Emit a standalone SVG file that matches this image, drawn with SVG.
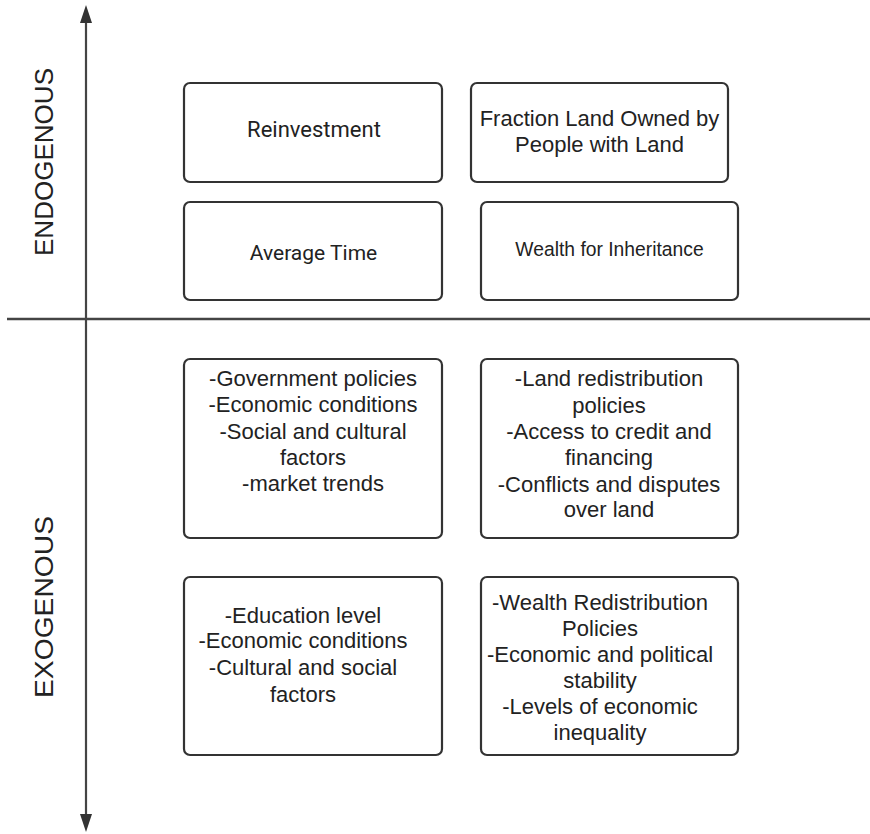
<svg xmlns="http://www.w3.org/2000/svg" width="870" height="834" viewBox="0 0 870 834">
  <style>
    .box { fill: #ffffff; stroke: #333333; stroke-width: 2.2; }
    .axis { stroke: #444444; stroke-width: 2.2; fill: none; }
    .lbl { font-family: "Liberation Sans", Arial, sans-serif; font-size: 22px; fill: #222222; text-anchor: middle; }
    .rb { font-family: Roboto, "Liberation Sans", sans-serif; }
    .side { font-family: "Liberation Sans", Arial, sans-serif; font-size: 26px; fill: #222222; text-anchor: middle; }
  </style>
  <rect width="870" height="834" fill="#ffffff"/>

  <g id="connectors">
    <line class="axis" x1="86" y1="818" x2="86" y2="20"/>
    <path d="M86,5 L80,23 L92,23 Z" fill="#333333"/>
    <path d="M86,832 L80,814 L92,814 Z" fill="#333333"/>
    <line class="axis" x1="7" y1="319" x2="870" y2="319" style="stroke-width:2.6"/>
  </g>

  <g id="label-endogenous">
    <text class="side" transform="translate(52.5,162) rotate(-90)" textLength="188" lengthAdjust="spacingAndGlyphs">ENDOGENOUS</text>
  </g>
  <g id="label-exogenous">
    <text class="side" transform="translate(52.5,607) rotate(-90)" textLength="182" lengthAdjust="spacingAndGlyphs">EXOGENOUS</text>
  </g>

  <g id="reinvestment">
    <rect class="box" x="184" y="83" width="258" height="99" rx="6"/>
    <text class="lbl rb" x="314" y="137">Reinvestment</text>
  </g>

  <g id="fraction-land">
    <rect class="box" x="471" y="83" width="257" height="99" rx="6"/>
    <text class="lbl" x="599.5" y="126">Fraction Land Owned by</text>
    <text class="lbl" x="599.5" y="152">People with Land</text>
  </g>

  <g id="average-time">
    <rect class="box" x="184" y="202" width="258" height="98" rx="6"/>
    <text class="lbl rb" x="313.5" y="260" style="font-size:21px">Average Time</text>
  </g>

  <g id="wealth-inheritance">
    <rect class="box" x="481" y="202" width="257" height="98" rx="6"/>
    <text class="lbl" x="609.5" y="256" style="font-size:19.3px">Wealth for Inheritance</text>
  </g>

  <g id="exo-reinvestment">
    <rect class="box" x="184" y="359" width="258" height="179" rx="6"/>
    <text class="lbl" x="313" y="386">-Government policies</text>
    <text class="lbl" x="313" y="412">-Economic conditions</text>
    <text class="lbl" x="313" y="439">-Social and cultural</text>
    <text class="lbl" x="313" y="465">factors</text>
    <text class="lbl" x="313" y="491">-market trends</text>
  </g>

  <g id="exo-land">
    <rect class="box" x="481" y="359" width="257" height="179" rx="6"/>
    <text class="lbl" x="609" y="386">-Land redistribution</text>
    <text class="lbl" x="609" y="413">policies</text>
    <text class="lbl" x="609" y="439">-Access to credit and</text>
    <text class="lbl" x="609" y="465">financing</text>
    <text class="lbl" x="609" y="492">-Conflicts and disputes</text>
    <text class="lbl" x="609" y="517">over land</text>
  </g>

  <g id="exo-time">
    <rect class="box" x="184" y="577" width="258" height="178" rx="6"/>
    <text class="lbl" x="303" y="623">-Education level</text>
    <text class="lbl" x="303" y="648">-Economic conditions</text>
    <text class="lbl" x="303" y="675">-Cultural and social</text>
    <text class="lbl" x="303" y="702">factors</text>
  </g>

  <g id="exo-wealth">
    <rect class="box" x="481" y="577" width="257" height="178" rx="6"/>
    <text class="lbl" x="600" y="610">-Wealth Redistribution</text>
    <text class="lbl" x="600" y="636">Policies</text>
    <text class="lbl" x="600" y="662">-Economic and political</text>
    <text class="lbl" x="600" y="688">stability</text>
    <text class="lbl" x="600" y="714">-Levels of economic</text>
    <text class="lbl" x="600" y="740">inequality</text>
  </g>
</svg>
